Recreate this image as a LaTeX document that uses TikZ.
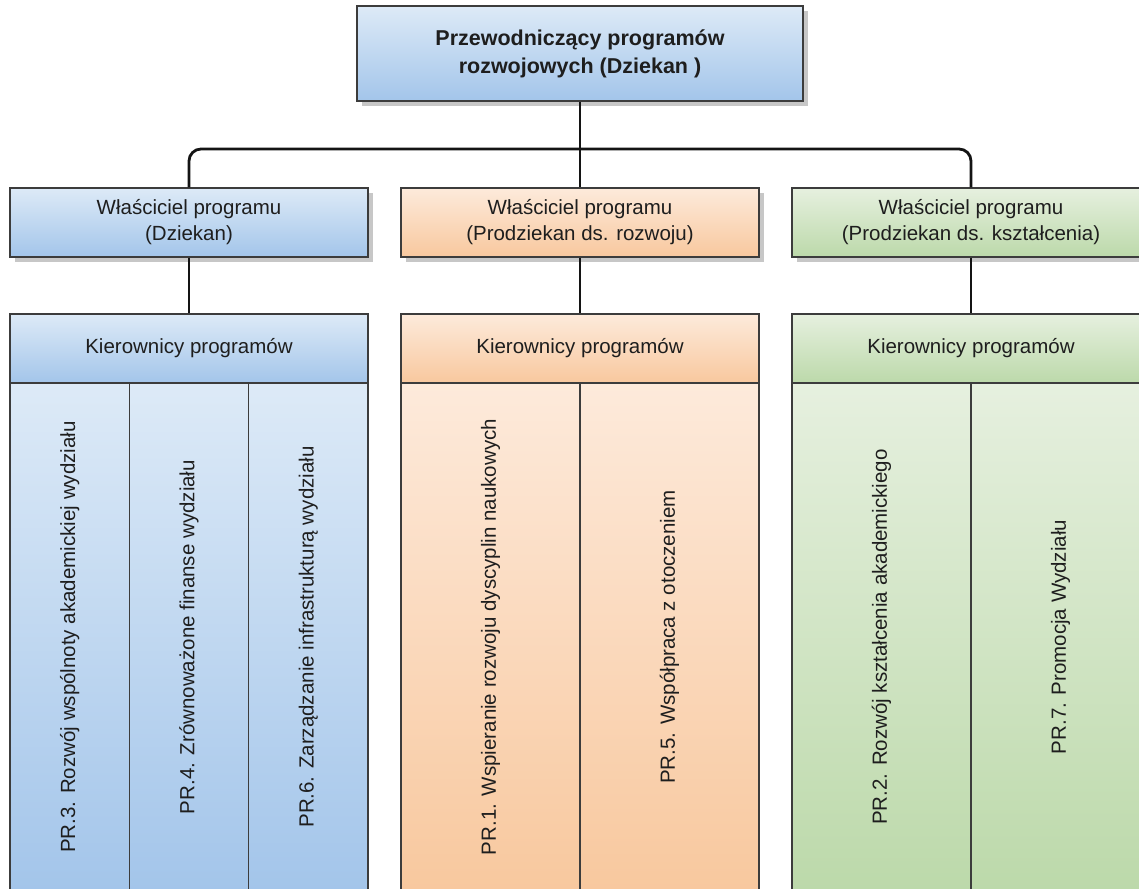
\documentclass[tikz,border=0pt]{standalone}
\usepackage{fontspec}
\setmainfont{Liberation Sans}
\usetikzlibrary{shadows}
\definecolor{bluetop}{HTML}{DDEAF7}
\definecolor{bluebot}{HTML}{A3C5EA}
\definecolor{orangetop}{HTML}{FDEADB}
\definecolor{orangebot}{HTML}{F8C89E}
\definecolor{greentop}{HTML}{E6F0DF}
\definecolor{greenbot}{HTML}{BCD9AA}
\definecolor{bordercol}{HTML}{3C3C3C}
\definecolor{textcol}{HTML}{1E1E1E}
\newcommand{\regfont}{\fontsize{20.5}{26}\selectfont}
\newcommand{\boldfont}{\fontsize{21.5}{28}\selectfont\bfseries}
\begin{document}
\begin{tikzpicture}[x=1pt,y=-1pt,
  box/.style={draw=bordercol, line width=1.2pt, inner sep=0pt, align=center, font=\regfont, text=textcol},
  shad/.style={drop shadow={shadow xshift=5pt, shadow yshift=-5pt, fill=black, opacity=0.22}},
  bluefill/.style={top color=bluetop, bottom color=bluebot},
  orangefill/.style={top color=orangetop, bottom color=orangebot},
  greenfill/.style={top color=greentop, bottom color=greenbot},
  topbox/.style={box, shad, font=\boldfont, minimum width=446pt, minimum height=95pt},
  owner/.style={box, shad, minimum width=358pt, minimum height=69pt},
  hdr/.style={box, minimum width=358pt, minimum height=69pt},
  bcol/.style={box, minimum width=119.33pt, minimum height=508pt},
  wcol/.style={box, minimum width=179pt, minimum height=508pt},
  vtext/.style={rotate=90, font=\regfont, text=textcol, inner sep=0pt},
  conn/.style={line width=2.8pt, draw=black!92, rounded corners=12pt}]
\useasboundingbox (0,0) rectangle (1139,888);
\clip (0,0) rectangle (1139,888);
\fill[white] (0,0) rectangle (1139,888);

% connector junction
\coordinate (bus) at (580,149);

% top
\node[topbox, bluefill] (top) at (580,53.5) {Przewodniczący programów\\rozwojowych (Dziekan )};

% owners
\node[owner, bluefill] (o1) at (189,222.5) {Właściciel programu\\(Dziekan)};
\node[owner, orangefill] (o2) at (580,222.5) {Właściciel programu\\(Prodziekan ds. rozwoju)};
\node[owner, greenfill] (o3) at (971,222.5) {Właściciel programu\\(Prodziekan ds. kształcenia)};

% headers
\node[hdr, bluefill] (h1) at (189,348.5) {Kierownicy programów};
\node[hdr, orangefill] (h2) at (580,348.5) {Kierownicy programów};
\node[hdr, greenfill] (h3) at (971,348.5) {Kierownicy programów};

% columns
\node[bcol, bluefill] (c1) at (69.67,637) {};
\node[bcol, bluefill] (c2) at (189,637) {};
\node[bcol, bluefill] (c3) at (308.33,637) {};
\node[wcol, orangefill] (c4) at (490.5,637) {};
\node[wcol, orangefill] (c5) at (669.5,637) {};
\node[wcol, greenfill] (c6) at (881.5,637) {};
\node[wcol, greenfill] (c7) at (1060.5,637) {};

\node[vtext] (t1) at (c1.center) {PR.3. Rozwój wspólnoty akademickiej wydziału};
\node[vtext] (t2) at (c2.center) {PR.4. Zrównoważone finanse wydziału};
\node[vtext] (t3) at (c3.center) {PR.6. Zarządzanie infrastrukturą wydziału};
\node[vtext] (t4) at (c4.center) {PR.1. Wspieranie rozwoju dyscyplin naukowych};
\node[vtext] (t5) at (c5.center) {PR.5. Współpraca z otoczeniem};
\node[vtext] (t6) at (c6.center) {PR.2. Rozwój kształcenia akademickiego};
\node[vtext] (t7) at (c7.center) {PR.7. Promocja Wydziału};

% connectors
\draw[conn] (top.south) -- (o2.north);
\draw[conn] (o1.north) |- (bus) -| (o3.north);
\draw[conn] (o1.south) -- (h1.north);
\draw[conn] (o2.south) -- (h2.north);
\draw[conn] (o3.south) -- (h3.north);
\end{tikzpicture}
\end{document}
